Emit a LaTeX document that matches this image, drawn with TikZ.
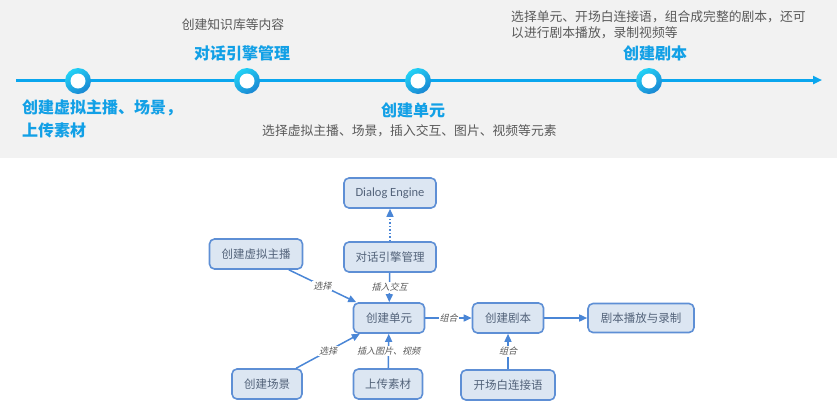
\documentclass[tikz,border=0pt]{standalone}
\usepackage{fontspec}
\setmainfont{Noto Sans CJK SC}
\newfontfamily\latinfont{Carlito}
\newfontfamily\slantfont{Noto Sans CJK SC}[FakeSlant=0.25]
\usetikzlibrary{arrows.meta}
\definecolor{bandgray}{HTML}{F2F2F2}
\definecolor{tlblue}{HTML}{0AA6EE}
\definecolor{headblue}{HTML}{12A0E6}
\definecolor{notegray}{HTML}{595959}
\definecolor{ringlight}{HTML}{22D2F6}
\definecolor{ringdark}{HTML}{1A86D2}
\definecolor{boxfill}{HTML}{DCE6F2}
\definecolor{boxdraw}{HTML}{5E8FD5}
\definecolor{boxtext}{HTML}{53637A}
\definecolor{edgeblue}{HTML}{4A86D6}
\begin{document}
\begin{tikzpicture}[x=1pt,y=-1pt,
  heading/.style={font=\fontsize{16}{18}\selectfont\bfseries, text=headblue, inner sep=0pt},
  note/.style={font=\fontsize{12.8}{16}\selectfont, text=notegray, inner sep=0pt, align=left},
  ring/.style={circle, minimum size=26pt, inner sep=0pt,
    top color=ringlight, bottom color=ringdark, shading angle=35,
    path picture={\fill[white] (path picture bounding box.center) circle (7.5pt);}},
  stepbox/.style={draw=boxdraw, line width=1.6pt, fill=boxfill, rounded corners=5pt,
    minimum height=30pt, inner sep=2pt, text=boxtext, font=\fontsize{11.5}{13}\selectfont},
  flow/.style={draw=edgeblue, line width=1.5pt, -{Triangle[length=8pt,width=7pt]}},
  lab/.style={fill=white, inner sep=1pt, text=notegray, font=\slantfont\fontsize{9}{10}\selectfont}
]
\useasboundingbox (0,0) rectangle (837,408);

% timeline band
\fill[bandgray] (0,0) rectangle (837,158);
\coordinate (tlstart) at (16,80);
\coordinate (tlend) at (822,80);
\draw[tlblue, line width=3pt, -{Triangle[length=9pt,width=8pt]}] (tlstart) -- (tlend);

\node[ring] (m1) at (78,81) {};
\node[ring] (m2) at (247,81) {};
\node[ring] (m3) at (418,81) {};
\node[ring] (m4) at (649,81) {};

\node[note, anchor=center] (n2) at (233,25) {创建知识库等内容};
\node[heading] (h2) at (242,53) {对话引擎管理};
\node[heading, anchor=west] (h1a) at (22,108) {创建虚拟主播、场景，};
\node[heading, anchor=west] (h1b) at (22,130) {上传素材};
\node[heading] (h3) at (413,110) {创建单元};
\node[note, anchor=west] (n3) at (262,131) {选择虚拟主播、场景，插入交互、图片、视频等元素};
\node[note, anchor=west] (n4a) at (511,17) {选择单元、开场白连接语，组合成完整的剧本，还可};
\node[note, anchor=west] (n4b) at (511,33) {以进行剧本播放，录制视频等};
\node[heading] (h4) at (655,53) {创建剧本};

% flow diagram
\node[stepbox, minimum width=92pt, font=\latinfont\fontsize{12.5}{14}\selectfont] (engine) at (390,193) {Dialog Engine};
\node[stepbox, minimum width=92pt] (dialog) at (390,257) {对话引擎管理};
\node[stepbox, minimum width=93pt] (anchor) at (256,254) {创建虚拟主播};
\node[stepbox, minimum width=71pt] (unit) at (389,318) {创建单元};
\node[stepbox, minimum width=70pt] (scene) at (267,384) {创建场景};
\node[stepbox, minimum width=69pt] (upload) at (388,384) {上传素材};
\node[stepbox, minimum width=71pt] (script) at (508,318) {创建剧本};
\node[stepbox, minimum width=106pt, minimum height=29pt] (play) at (641,318) {剧本播放与录制};
\node[stepbox, minimum width=94pt] (opening) at (508,385) {开场白连接语};

\draw[flow, dotted] (dialog) -- (engine);
\draw[flow] (dialog) -- node[lab] {插入交互} (unit);
\draw[flow] (anchor) -- node[lab] {选择} (unit);
\draw[flow] (scene) -- node[lab] {选择} (unit);
\draw[flow] (upload) -- node[lab] {插入图片、视频} (unit);
\draw[flow] (unit) -- node[lab] {组合} (script);
\draw[flow] (opening) -- node[lab] {组合} (script);
\draw[flow] (script) -- (play);
\end{tikzpicture}
\end{document}
